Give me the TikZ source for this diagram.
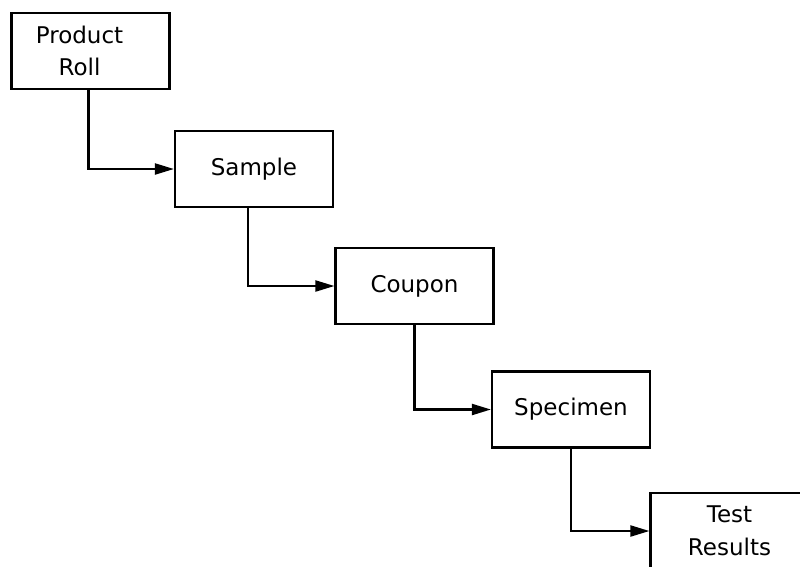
\documentclass[tikz,border=0pt]{standalone}
\usepackage{fontspec}
\setmainfont{DejaVu Sans}
\usetikzlibrary{arrows.meta}
\begin{document}
\begin{tikzpicture}[x=1pt,y=-1pt,
  stepbox/.style={draw=black,line width=2.2pt,minimum width=158pt,minimum height=76pt,inner sep=0pt,
    font=\fontsize{23}{32.5}\selectfont,align=center,text=black},
  link/.style={draw=black,line width=2.2pt,-{Triangle[length=19pt,width=11pt]}}]
\clip (0,0) rectangle (800,566);
\fill[white] (0,0) rectangle (800,566);
\node[stepbox] (roll) at (90.5,51) {\hspace*{-22pt}Product\\\hspace*{-22pt}Roll};
\node[stepbox] (sample) at (254,169) {Sample};
\node[stepbox] (coupon) at (414.5,286) {Coupon};
\node[stepbox] (specimen) at (571,409.5) {Specimen};
\node[stepbox] (results) at (729.5,531) {Test\\Results};
\draw[link] ([xshift=-2pt]roll.south) |- (sample.west);
\draw[link] ([xshift=-6pt]sample.south) |- (coupon.west);
\draw[link] (coupon.south) |- (specimen.west);
\draw[link] (specimen.south) |- (results.west);
\end{tikzpicture}
\end{document}
